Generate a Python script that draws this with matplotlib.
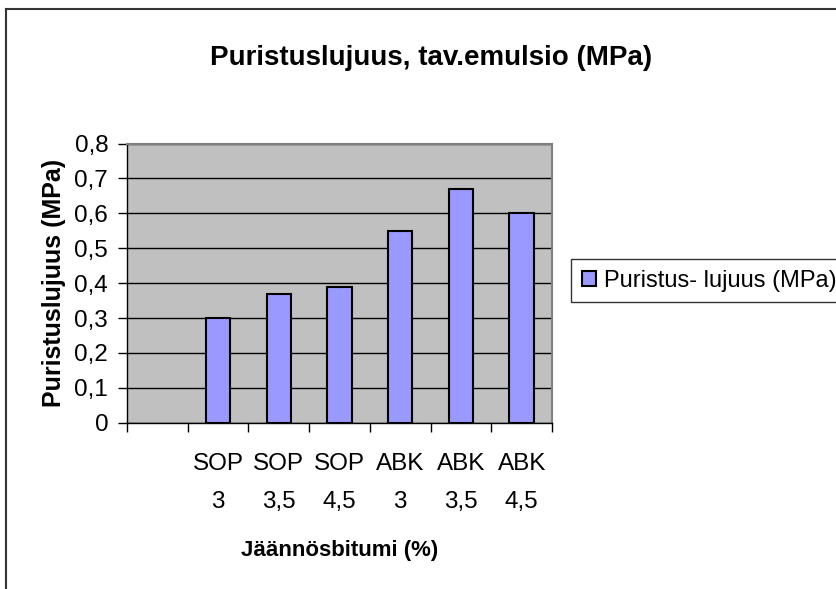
import matplotlib
matplotlib.use("Agg")
import matplotlib.pyplot as plt
import numpy as np
from matplotlib.lines import Line2D

categories = ["", "SOP\n3", "SOP\n3,5", "SOP\n4,5", "ABK\n3", "ABK\n3,5", "ABK\n4,5"]
values = [np.nan, 0.30, 0.37, 0.39, 0.55, 0.67, 0.60]
yticks = [0, 0.1, 0.2, 0.3, 0.4, 0.5, 0.6, 0.7, 0.8]
ytick_labels = ["0", "0,1", "0,2", "0,3", "0,4", "0,5", "0,6", "0,7", "0,8"]
series_name = "Puristus- lujuus (MPa)"
title = "Puristuslujuus, tav.emulsio (MPa)"
xlabel = "Jäännösbitumi (%)"
ylabel = "Puristuslujuus (MPa)"

plt.rcParams['font.family'] = ['Liberation Sans', 'DejaVu Sans']

fig = plt.figure(figsize=(8.37, 5.89), dpi=100)
ax = fig.add_axes([127/837, 1-422.7/589, (552-127)/837, (422.7-143.5)/589])
ax.set_facecolor('#C0C0C0')

x = np.arange(len(categories))
ax.bar(x, values, width=0.4, color='#9999FF', edgecolor='black', linewidth=1.5,
       label=series_name, zorder=3)

ax.set_xlim(-0.5, len(categories) - 0.5)
ax.set_ylim(0, 0.8)
ax.set_yticks(yticks)
ax.set_yticklabels(ytick_labels, fontsize=17.5)
ax.yaxis.grid(True, color='black', linewidth=1)
ax.set_axisbelow(True)

# category boundaries as major ticks, labels at centers (minor)
ax.set_xticks(np.arange(len(categories) + 1) - 0.5)
ax.set_xticklabels([])
ax.set_xticks(x, minor=True)
ax.set_xticklabels(categories, minor=True, fontsize=17.5, linespacing=1.95)
ax.tick_params(axis='x', which='major', direction='out', length=6.5, width=1, color='black')
ax.tick_params(axis='x', which='minor', length=0, pad=22)
ax.tick_params(axis='y', direction='out', length=6.5, width=1, pad=7)

for s in ['left', 'bottom']:
    ax.spines[s].set_color('black')
    ax.spines[s].set_linewidth(1)
for s in ['top', 'right']:
    ax.spines[s].set_color('#808080')
    ax.spines[s].set_linewidth(1.5)

ax.set_xlabel(xlabel, fontsize=16, fontweight='bold', labelpad=19)
ax.set_ylabel(ylabel, fontsize=18, fontweight='bold', labelpad=6)

fig.text(431/837, 1-58/589, title, fontsize=20, fontweight='bold', ha='center', va='center')

leg = fig.legend(loc='center left', bbox_to_anchor=(571/837, 1-280.5/589), fontsize=17,
                 frameon=True, fancybox=False, edgecolor='black', handlelength=0.6,
                 handleheight=0.6, handletextpad=0.35, borderpad=0.45, borderaxespad=0)
leg.get_frame().set_linewidth(1)

# figure border (top and left visible)
fig.add_artist(Line2D([6/837, 1], [1-8.5/589, 1-8.5/589], color='#333333', linewidth=1.5, transform=fig.transFigure))
fig.add_artist(Line2D([6/837, 6/837], [0, 1-8.5/589], color='#333333', linewidth=1.5, transform=fig.transFigure))

fig.savefig('out.png', dpi=100)
